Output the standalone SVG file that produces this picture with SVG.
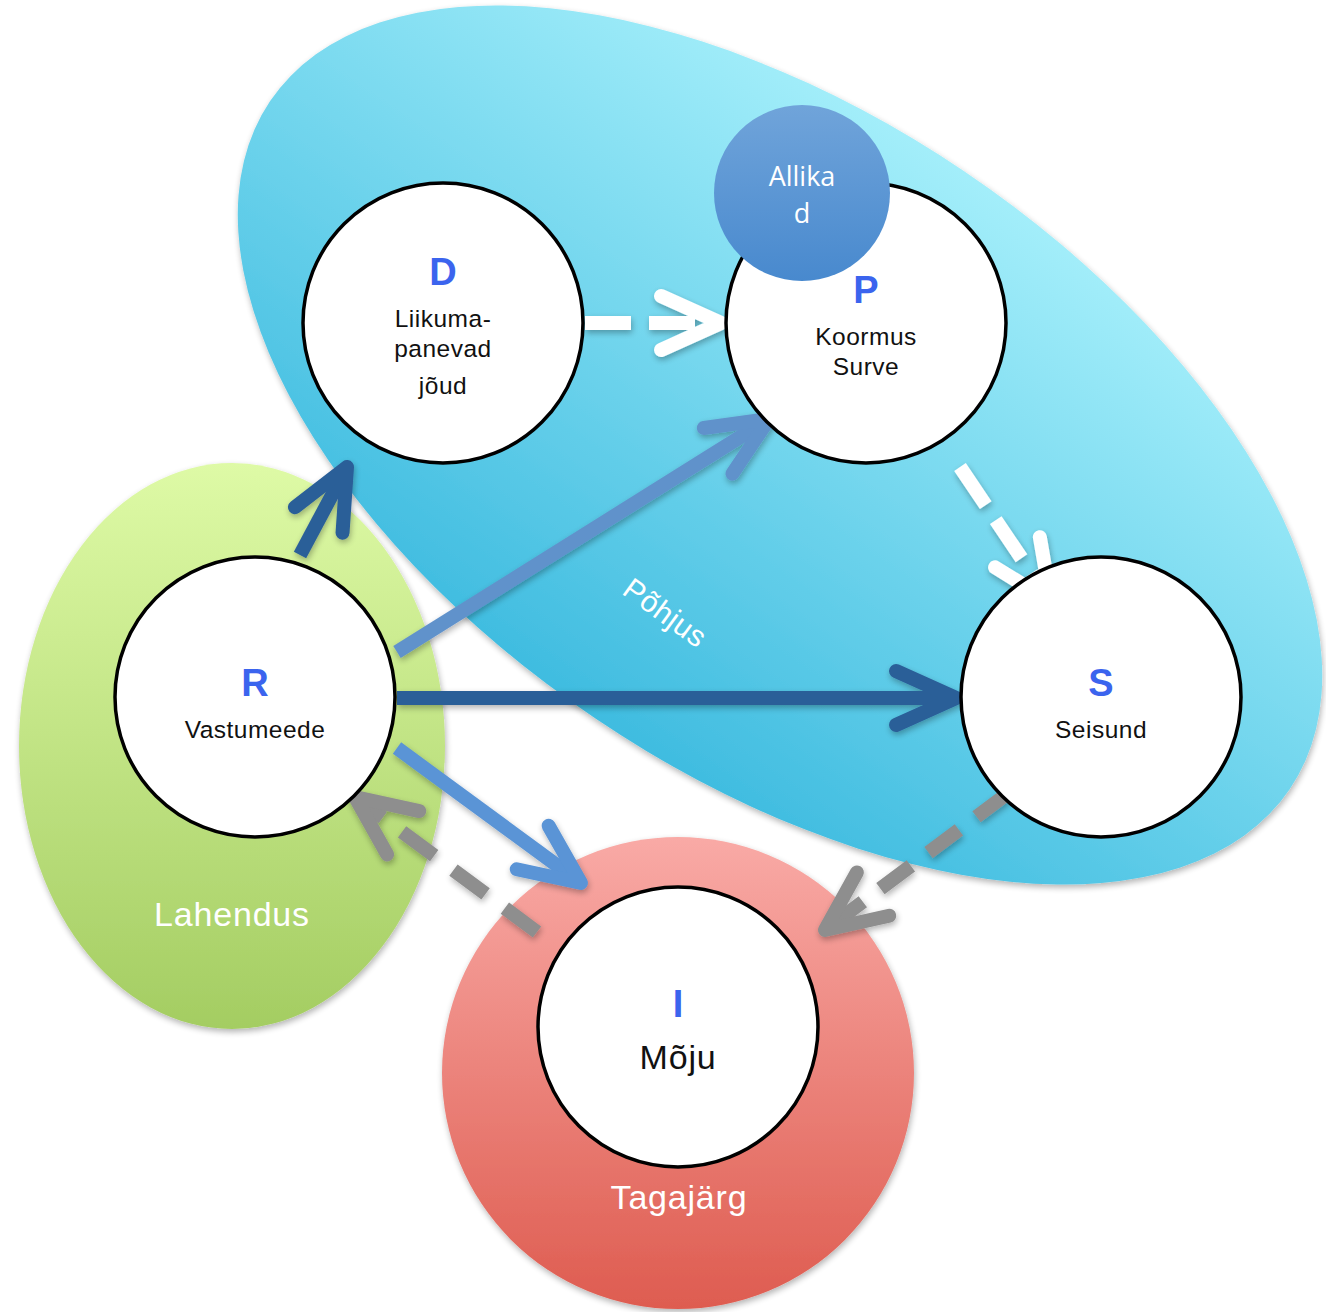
<svg xmlns="http://www.w3.org/2000/svg" width="1326" height="1312" viewBox="0 0 1326 1312">
<defs>
<linearGradient id="gBlue" x1="0" y1="0" x2="0" y2="1">
<stop offset="0" stop-color="#a3eefa"/>
<stop offset="1" stop-color="#3fbce0"/>
</linearGradient>
<linearGradient id="gGreen" x1="0" y1="0" x2="0" y2="1">
<stop offset="0" stop-color="#defaa6"/>
<stop offset="1" stop-color="#a4cd62"/>
</linearGradient>
<linearGradient id="gRed" x1="0" y1="0" x2="0" y2="1">
<stop offset="0" stop-color="#f9aaa6"/>
<stop offset="1" stop-color="#de5c50"/>
</linearGradient>
<linearGradient id="gAll" x1="0" y1="0" x2="0" y2="1">
<stop offset="0" stop-color="#70a4da"/>
<stop offset="1" stop-color="#4889ce"/>
</linearGradient>
<filter id="sh" x="-20%" y="-20%" width="140%" height="140%">
<feGaussianBlur in="SourceAlpha" stdDeviation="3"/>
<feOffset dx="1" dy="3" result="b"/>
<feComponentTransfer><feFuncA type="linear" slope="0.3"/></feComponentTransfer>
<feMerge><feMergeNode/><feMergeNode in="SourceGraphic"/></feMerge>
</filter>
<marker id="mDark" markerUnits="userSpaceOnUse" viewBox="-75 -40 85 80" markerWidth="85" markerHeight="80" refX="0" refY="0" orient="auto">
<path d="M-60,-27 L0,0 L-60,27" fill="none" stroke="#2b5f98" stroke-width="14" stroke-linecap="round" stroke-linejoin="round"/>
</marker>
<marker id="mMid" markerUnits="userSpaceOnUse" viewBox="-75 -40 85 80" markerWidth="85" markerHeight="80" refX="0" refY="0" orient="auto">
<path d="M-60,-27 L0,0 L-60,27" fill="none" stroke="#6192cb" stroke-width="14" stroke-linecap="round" stroke-linejoin="round"/>
</marker>
<marker id="mLight" markerUnits="userSpaceOnUse" viewBox="-75 -40 85 80" markerWidth="85" markerHeight="80" refX="0" refY="0" orient="auto">
<path d="M-60,-27 L0,0 L-60,27" fill="none" stroke="#5a94d6" stroke-width="14" stroke-linecap="round" stroke-linejoin="round"/>
</marker>
<marker id="mGray" markerUnits="userSpaceOnUse" viewBox="-75 -40 85 80" markerWidth="85" markerHeight="80" refX="0" refY="0" orient="auto">
<path d="M-60,-27 L0,0 L-60,27" fill="none" stroke="#8e8e8e" stroke-width="14" stroke-linecap="round" stroke-linejoin="round"/>
</marker>
<marker id="mWhite" markerUnits="userSpaceOnUse" viewBox="-75 -40 85 80" markerWidth="85" markerHeight="80" refX="0" refY="0" orient="auto">
<path d="M-60,-27 L0,0 L-60,27" fill="none" stroke="#ffffff" stroke-width="14" stroke-linecap="round" stroke-linejoin="round"/>
</marker>
</defs>
<style>
.node{fill:#ffffff;stroke:#000000;stroke-width:3.5}
.let{font-family:"Liberation Sans",Arial,sans-serif;font-weight:bold;font-size:38px;fill:#3b64ee;text-anchor:middle}
.lbl{font-family:"Liberation Sans",Arial,sans-serif;font-size:24.5px;letter-spacing:0.5px;fill:#111111;text-anchor:middle}
.big{font-family:"Liberation Sans",Arial,sans-serif;font-size:34px;letter-spacing:0.8px;fill:#ffffff;text-anchor:middle}
.con{fill:none;stroke-width:14}
</style>
<rect width="1326" height="1312" fill="#ffffff"/>
<g id="region-pohjus" filter="url(#sh)">
<ellipse cx="780" cy="445" rx="615" ry="330" transform="rotate(34 780 445)" fill="url(#gBlue)"/>
</g>
<g id="region-lahendus" filter="url(#sh)">
<ellipse cx="232" cy="746" rx="213" ry="283" fill="url(#gGreen)"/>
</g>
<g id="region-tagajarg" filter="url(#sh)">
<circle cx="678" cy="1073" r="236" fill="url(#gRed)"/>
</g>
<text class="big" style="font-size:30px;letter-spacing:0.5px" transform="translate(665 613) rotate(36)" y="10">Põhjus</text>
<text class="big" x="232" y="926">Lahendus</text>
<text class="big" x="679" y="1209">Tagajärg</text>
<g id="connectors" filter="url(#sh)">
<path class="con" d="M300,555 L347,467" stroke="#2b5f98" marker-end="url(#mDark)"/>
<path class="con" d="M397,652 L769,419" stroke="#6192cb" marker-end="url(#mMid)"/>
<path class="con" d="M397,698 L956,698" stroke="#2b5f98" marker-end="url(#mDark)"/>
<path class="con" d="M397,748 L581,883" stroke="#5a94d6" marker-end="url(#mLight)"/>
<path class="con" d="M537,932 L355,797" stroke="#8e8e8e" stroke-dasharray="40 24" marker-end="url(#mGray)"/>
<path class="con" d="M1007,794 L825,930" stroke="#8e8e8e" stroke-dasharray="38 22" marker-end="url(#mGray)"/>
<path class="con" d="M585,323 L721,323" stroke="#ffffff" stroke-dasharray="46 18" marker-end="url(#mWhite)"/>
<path class="con" d="M960,467 L1051,602" stroke="#ffffff" stroke-dasharray="46 18" marker-end="url(#mWhite)"/>
</g>
<g id="node-D">
<circle class="node" cx="443" cy="323" r="140"/>
<text class="let" x="443" y="285">D</text>
<text class="lbl" x="443" y="327">Liikuma-</text>
<text class="lbl" x="443" y="357">panevad</text>
<text class="lbl" x="443" y="394">jõud</text>
</g>
<g id="node-P">
<circle class="node" cx="866" cy="323" r="140"/>
<text class="let" x="866" y="303">P</text>
<text class="lbl" x="866" y="345">Koormus</text>
<text class="lbl" x="866" y="375">Surve</text>
</g>
<g id="node-Allikad">
<circle cx="802" cy="193" r="88" fill="url(#gAll)"/>
<text x="802" y="186" font-family="'Open Sans','Liberation Sans',sans-serif" font-size="27" fill="#ffffff" text-anchor="middle">Allika</text>
<text x="802" y="223" font-family="'Open Sans','Liberation Sans',sans-serif" font-size="27" fill="#ffffff" text-anchor="middle">d</text>
</g>
<g id="node-R">
<circle class="node" cx="255" cy="697" r="140"/>
<text class="let" x="255" y="696">R</text>
<text class="lbl" x="255" y="738">Vastumeede</text>
</g>
<g id="node-S">
<circle class="node" cx="1101" cy="697" r="140"/>
<text class="let" x="1101" y="696">S</text>
<text class="lbl" x="1101" y="738">Seisund</text>
</g>
<g id="node-I">
<circle class="node" cx="678" cy="1027" r="140"/>
<text class="let" x="678" y="1017">I</text>
<text class="lbl" style="font-size:34px;letter-spacing:0.8px" x="678" y="1069">Mõju</text>
</g>
</svg>
